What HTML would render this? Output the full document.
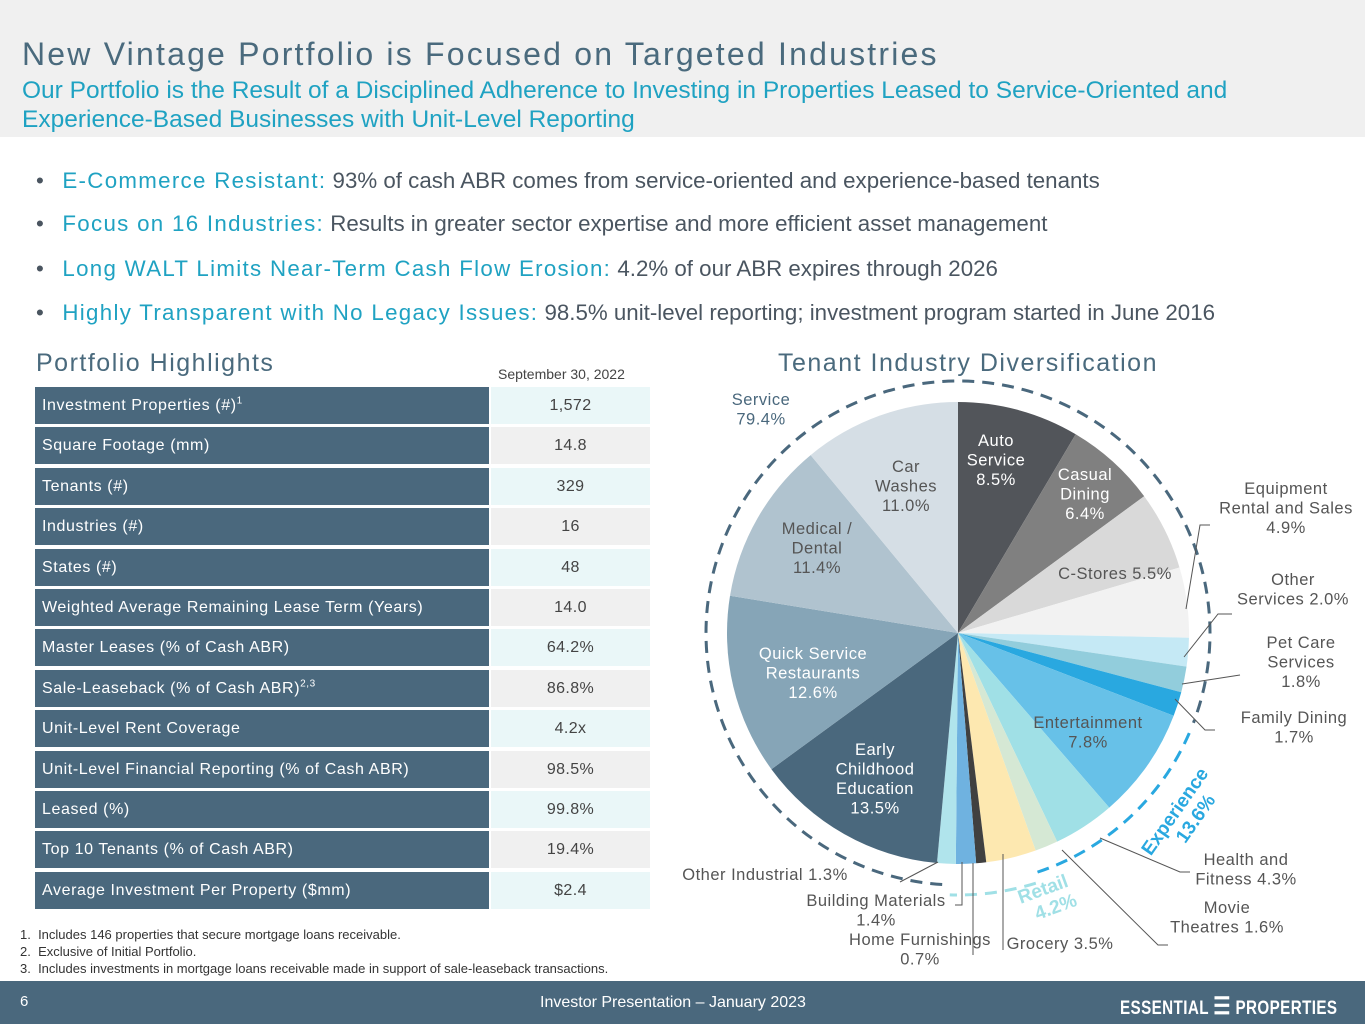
<!DOCTYPE html>
<html><head><meta charset="utf-8"><style>
body{margin:0;width:1365px;height:1024px;position:relative;font-family:"Liberation Sans",sans-serif;background:#fff;overflow:hidden}
.abs{position:absolute}
#hdr{left:0;top:0;width:1365px;height:137px;background:#f0f0f0}
h1{position:absolute;left:22px;top:36px;margin:0;font-weight:normal;font-size:32px;color:#4a6a7d;letter-spacing:2.2px;white-space:nowrap}
.sub{left:22px;top:76px;font-size:24.5px;color:#1fa2c2;line-height:29px;width:1250px}
.bul{left:36px;font-size:22.3px;color:#4a5560;white-space:nowrap}
.bul b{font-weight:normal;color:#1fa2c2;letter-spacing:1.3px}
.sec{font-size:25px;color:#4a6a7d;letter-spacing:1.5px}
.row{left:35px;width:615px;height:37px}
.row .l{position:absolute;left:0;top:0;width:454px;height:37px;background:#4a687d;color:#fff;font-size:16px;line-height:37px;padding-left:7px;box-sizing:border-box;letter-spacing:.6px}
.row .l sup{line-height:0;font-size:10px}
.row .v{position:absolute;left:456px;top:0;width:159px;height:37px;font-size:16px;line-height:37px;text-align:center;color:#444;letter-spacing:.4px}
.notes{left:20px;top:926px;font-size:13px;color:#333;line-height:17px}
#ftr{left:0;top:981px;width:1365px;height:43px;background:#4a687d}
</style></head><body>
<div id="hdr" class="abs"></div>
<h1>New Vintage Portfolio is Focused on Targeted Industries</h1>
<div class="abs sub">Our Portfolio is the Result of a Disciplined Adherence to Investing in Properties Leased to Service-Oriented and Experience-Based Businesses with Unit-Level Reporting</div>
<div class="abs bul" style="top:168px">•&nbsp;&nbsp;&nbsp;<b>E-Commerce Resistant:</b> 93% of cash ABR comes from service-oriented and experience-based tenants</div>
<div class="abs bul" style="top:211px">•&nbsp;&nbsp;&nbsp;<b>Focus on 16 Industries:</b> Results in greater sector expertise and more efficient asset management</div>
<div class="abs bul" style="top:256px">•&nbsp;&nbsp;&nbsp;<b>Long WALT Limits Near-Term Cash Flow Erosion:</b> 4.2% of our ABR expires through 2026</div>
<div class="abs bul" style="top:300px">•&nbsp;&nbsp;&nbsp;<b>Highly Transparent with No Legacy Issues:</b> 98.5% unit-level reporting; investment program started in June 2016</div>
<div class="abs sec" style="left:36px;top:349px">Portfolio Highlights</div>
<div class="abs" style="left:498px;top:366px;font-size:14px;color:#444">September 30, 2022</div>
<div id="tbl"></div>
<div class="abs notes">1.&nbsp; Includes 146 properties that secure mortgage loans receivable.<br>2.&nbsp; Exclusive of Initial Portfolio.<br>3.&nbsp; Includes investments in mortgage loans receivable made in support of sale-leaseback transactions.</div>
<div class="abs sec" style="left:778px;top:349px">Tenant Industry Diversification</div>
<svg class="abs" style="left:0;top:0" width="1365" height="1024" id="pie"></svg>
<div id="ftr" class="abs"></div>
<div class="abs" style="left:20px;top:993px;color:#fff;font-size:15px">6</div>
<div class="abs" style="left:540px;top:994px;color:#fff;font-size:16px">Investor Presentation – January 2023</div>
<div class="abs" style="left:1120px;top:992px;color:#fff;font-size:19px;font-weight:bold;transform:scaleX(.8);transform-origin:left;letter-spacing:.5px;white-space:nowrap">ESSENTIAL <span style="font-size:24px">☰</span> PROPERTIES</div>
<script>
const rowLabels=["Investment Properties (#)<sup>1</sup>","Square Footage (mm)","Tenants (#)","Industries (#)","States (#)","Weighted Average Remaining Lease Term (Years)","Master Leases (% of Cash ABR)","Sale-Leaseback (% of Cash ABR)<sup>2,3</sup>","Unit-Level Rent Coverage","Unit-Level Financial Reporting (% of Cash ABR)","Leased (%)","Top 10 Tenants (% of Cash ABR)","Average Investment Per Property ($mm)"];
const rowValues=["1,572","14.8","329","16","48","14.0","64.2%","86.8%","4.2x","98.5%","99.8%","19.4%","$2.4"];
const tbl=document.getElementById('tbl');
rowLabels.forEach((l,i)=>{
 const r=document.createElement('div');r.className='abs row';r.style.top=(387+i*40.4)+'px';
 
 
 r.innerHTML='<div class="l">'+l+'</div><div class="v" style="background:'+(i%2?'#f0f0f0':'#eaf7f8')+'">'+rowValues[i]+'</div>';
 tbl.appendChild(r);
});
const cats=["Auto Service","Casual Dining","C-Stores","Equipment Rental and Sales","Other Services","Pet Care Services","Family Dining","Entertainment","Health and Fitness","Movie Theatres","Grocery","Home Furnishings","Building Materials","Other Industrial","Early Childhood Education","Quick Service Restaurants","Medical / Dental","Car Washes"];
const vals=[8.5,6.4,5.5,4.9,2.0,1.8,1.7,7.8,4.3,1.6,3.5,0.7,1.4,1.3,13.5,12.6,11.4,11.0];
const colors=["#52555a","#808080","#d9d9d9","#f2f2f2","#c5e9f5","#92cddc","#29a8e0","#67c1e8","#a0e0e6","#d5e8d4","#fde8b0","#404040","#6fb2e0","#b0e4ec","#4a687d","#86a5b7","#b0c3cf","#d5dee5"];
const cx=958,cy=633,R=231;
const svg=document.getElementById('pie');const NS='http://www.w3.org/2000/svg';
const total=vals.reduce((a,b)=>a+b,0);
const pt=(f,r)=>[cx+r*Math.sin(f*2*Math.PI),cy-r*Math.cos(f*2*Math.PI)];
let acc=0;
vals.forEach((v,i)=>{
 const a0=acc/total,a1=(acc+v)/total;acc+=v;
 const p0=pt(a0,R),p1=pt(a1,R);
 const p=document.createElementNS(NS,'path');
 p.setAttribute('d',`M${cx},${cy}L${p0[0]},${p0[1]}A${R},${R} 0 ${a1-a0>.5?1:0} 1 ${p1[0]},${p1[1]}Z`);
 p.setAttribute('fill',colors[i]);
 
 
 svg.appendChild(p);
});
function arc(f0,f1,r,col){
 const p0=pt(f0,r),p1=pt(f1,r);
 const p=document.createElementNS(NS,'path');
 p.setAttribute('d',`M${p0[0]},${p0[1]}A${r},${r} 0 ${f1-f0>.5?1:0} 1 ${p1[0]},${p1[1]}`);
 p.setAttribute('fill','none');p.setAttribute('stroke',col);p.setAttribute('stroke-width',3);p.setAttribute('stroke-dasharray','12 8');
 
 
 svg.appendChild(p);
}
arc(0.51,1.308,252,'#4a687d');arc(0.315,0.45,252,'#29a8e0');arc(0.452,0.505,262,'#a0e0e6');
const inLabels=[["Auto|Service|8.5%",996,446,"#fff"],["Casual|Dining|6.4%",1085,480,"#fff"],["C-Stores 5.5%",1115,579,"#555"],["Entertainment|7.8%",1088,728,"#555"],["Early|Childhood|Education|13.5%",875,755,"#fff"],["Quick Service|Restaurants|12.6%",813,659,"#fff"],["Medical /|Dental|11.4%",817,534,"#555"],["Car|Washes|11.0%",906,472,"#555"],["Service|79.4%",761,405,"#4a687d"],
["Equipment|Rental and Sales|4.9%",1286,494,"#555"],["Other|Services 2.0%",1293,585,"#555"],["Pet Care|Services|1.8%",1301,648,"#555"],["Family Dining|1.7%",1294,723,"#555"],["Health and|Fitness 4.3%",1246,865,"#555"],["Movie|Theatres 1.6%",1227,913,"#555"],["Grocery 3.5%",1060,949,"#555"],["Home Furnishings|0.7%",920,945,"#555"],["Building Materials|1.4%",876,906,"#555"],["Other Industrial 1.3%",765,880,"#555"]];
inLabels.forEach(([t,x,y,c])=>{
 const tx=document.createElementNS(NS,'text');
 tx.setAttribute('text-anchor','middle');tx.setAttribute('font-size','16.5');tx.setAttribute('letter-spacing','0.5');tx.setAttribute('fill',c);tx.setAttribute('font-family','Liberation Sans, sans-serif');
 t.split('|').forEach((s,k)=>{const ts=document.createElementNS(NS,'tspan');ts.setAttribute('x',x);ts.setAttribute('y',y+k*19.5);ts.textContent=s;tx.appendChild(ts);});
 
 
 svg.appendChild(tx);
});
const lines=["1186,609 1200,525 1210,525","1184,657 1218,614 1232,614","1182,684 1240,675","1175,699 1205,730 1215,730","1100,838 1180,872 1190,872","1062,850 1158,945 1168,945","1003,854 1003,950","973,863 973,955","962,862 962,905 955,905","938,862 900,882"];
lines.forEach(l=>{const p=document.createElementNS(NS,'polyline');p.setAttribute('points',l);p.setAttribute('fill','none');p.setAttribute('stroke','#555');p.setAttribute('stroke-width','1');
 
 
 svg.appendChild(p);});
[["Experience","13.6%",1180,815,-55,"#29a8e0"],["Retail","4.2%",1045,895,-20,"#a0e0e6"]].forEach(([a,b,x,y,r,c])=>{
 const tx=document.createElementNS(NS,'text');tx.setAttribute('font-size','19');tx.setAttribute('font-weight','bold');tx.setAttribute('fill',c);tx.setAttribute('text-anchor','middle');tx.setAttribute('font-family','Liberation Sans, sans-serif');
 tx.setAttribute('transform',`rotate(${r} ${x} ${y})`);
 tx.innerHTML=`<tspan x="${x}" y="${y}">${a}</tspan><tspan x="${x+6}" y="${y+21}">${b}</tspan>`;
 
 
 svg.appendChild(tx);
});
</script>
</body></html>
